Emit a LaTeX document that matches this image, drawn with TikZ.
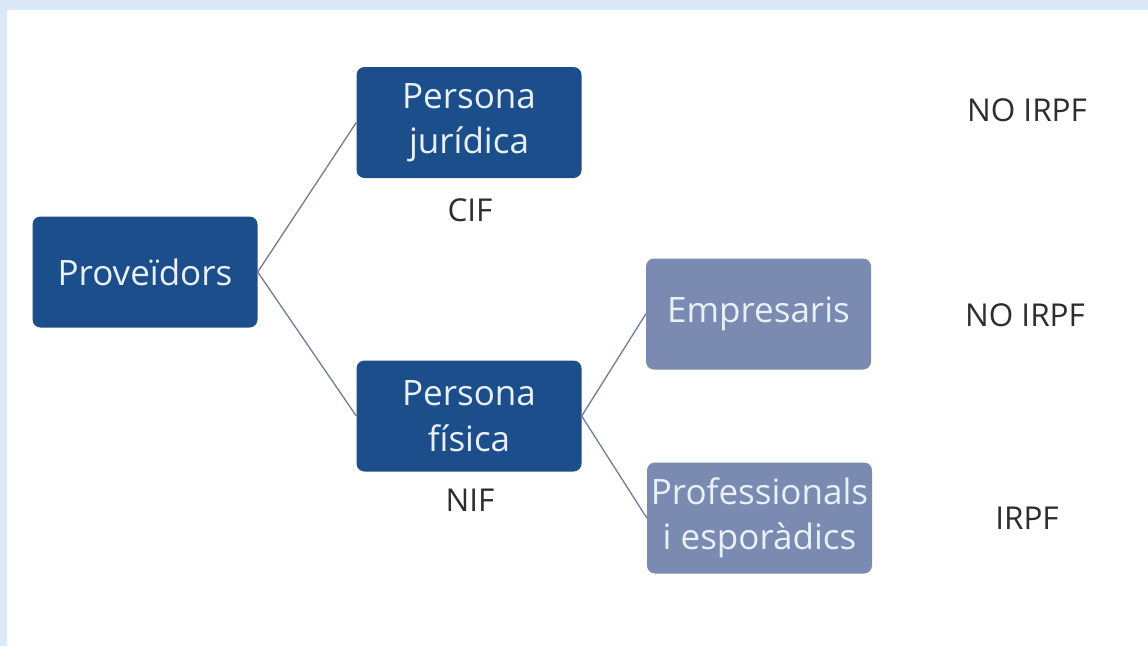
\documentclass[tikz,border=0pt]{standalone}
\usepackage{fontspec}
\setmainfont{Open Sans}
\definecolor{frameblue}{RGB}{218,232,247}
\definecolor{darkbox}{RGB}{28,78,140}
\definecolor{lightbox}{RGB}{122,138,176}
\definecolor{boxtext}{RGB}{232,240,250}
\definecolor{linkcol}{RGB}{110,125,155}
\definecolor{labeltext}{RGB}{45,45,45}
\begin{document}
\begin{tikzpicture}[x=1pt,y=-1pt,
  boxbase/.style={rounded corners=8pt, minimum width=225pt, minimum height=111pt,
    inner sep=0pt, align=center, text=boxtext,
    font=\fontsize{35}{45.5}\selectfont},
  darkbx/.style={boxbase, fill=darkbox},
  lightbx/.style={boxbase, fill=lightbox},
  lbl/.style={text=labeltext, font=\fontsize{31.5}{36}\selectfont, inner sep=0pt},
  link/.style={draw=linkcol, line width=1.3pt}]
\fill[frameblue] (0,0) rectangle (1148,646);
\fill[white] (7,10) rectangle (1148,646);
\useasboundingbox (0,0) rectangle (1148,646);

\node[darkbx] (prov) at (145,272) {Proveïdors};
\node[darkbx] (jur) at (469,122.5) {Persona\\jurídica};
\node[darkbx] (fis) at (469,416) {Persona\\física};
\node[lightbx] (emp) at (758.5,314) {Empresaris};
\node[lightbx] (pro) at (759.5,518) {Professionals\\i esporàdics};

\node[lbl] (cif) at (470,210) {CIF};
\node[lbl] (nif) at (470,500) {NIF};
\node[lbl] (n1) at (1027,110) {NO IRPF};
\node[lbl] (n2) at (1025,315) {NO IRPF};
\node[lbl] (n3) at (1027,518) {IRPF};

\draw[link] (prov.east) -- (jur.west);
\draw[link] (prov.east) -- (fis.west);
\draw[link] (fis.east) -- (emp.west);
\draw[link] (fis.east) -- (pro.west);
\end{tikzpicture}
\end{document}
